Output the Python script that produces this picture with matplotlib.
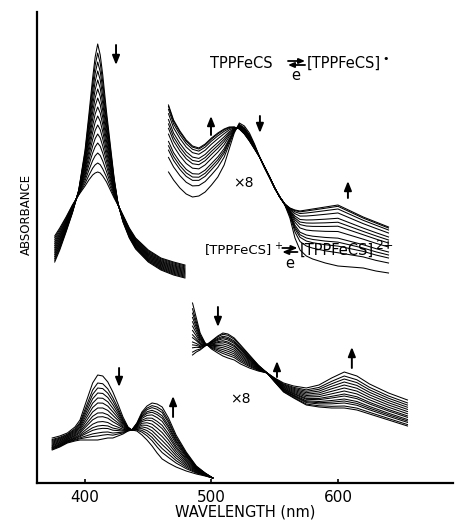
import numpy as np
import matplotlib.pyplot as plt

# Absorbance is arbitrary (no y scale in the original), heights read off the picture.

# Soret band, TPPFeCS -> [TPPFeCS]+ (upper left)
soret1_wl = [376, 380, 385, 390, 395, 400, 403, 406, 408, 410, 412, 414, 417, 420,
             423, 426, 430, 435, 440, 450, 460, 470, 479]
soret1_first = [221, 233, 251, 270, 293, 333, 368, 405, 426, 439, 428, 408, 371, 338,
                305, 280, 261, 245, 234, 221, 213, 208, 205]
soret1_last = [247, 255, 266, 278, 288, 297, 303, 308, 310, 311, 310, 307, 301, 293,
               285, 278, 268, 255, 245, 233, 225, 221, 218]
# height at 410 nm of each scan
soret1_scans = [439, 430, 421, 412, 403, 394, 385, 376, 367, 358, 349, 340, 330, 320, 311]

# visible bands x8, TPPFeCS -> [TPPFeCS]+ (upper right)
vis1_wl = [466, 470, 475, 480, 485, 490, 495, 500, 505, 510, 514, 518, 522, 526, 530,
           534, 538, 542, 546, 550, 554, 558, 562, 566, 570, 575, 580, 590, 600, 610,
           620, 630, 640]
vis1_first = [311, 303, 295, 289, 286, 287, 291, 298, 306, 318, 334, 350, 360, 357, 350,
              339, 326, 315, 305, 295, 286, 278, 265, 245, 233, 227, 224, 220, 217, 216,
              215, 212, 210]
vis1_last = [378, 363, 352, 343, 337, 335, 339, 345, 350, 354, 356, 356, 354, 349, 342,
             334, 326, 316, 306, 295, 286, 279, 275, 273, 272, 273, 274, 276, 278, 272,
             266, 261, 256]
# height at 640 nm of each scan
vis1_scans = [210, 220, 225, 228, 231, 236, 240, 243, 246, 250, 253, 255, 256]

# visible bands x8, [TPPFeCS]+ -> [TPPFeCS]2+ (lower right)
vis2_wl = [485, 488, 491, 495, 500, 505, 509, 513, 518, 523, 530, 537, 544, 550, 557,
           565, 575, 585, 595, 605, 615, 625, 640, 655]
vis2_first = [128, 131, 133, 137, 142, 147, 150, 149, 145, 138, 128, 118, 110, 101, 91,
              85, 78, 76, 75, 75, 73, 69, 63, 57]
vis2_last = [180, 165, 150, 140, 134, 130, 127, 125, 123, 119, 115, 112, 110, 105, 100,
             97, 95, 98, 105, 111, 107, 99, 90, 83]
# height at 605 nm of each scan
vis2_scans = [75, 77, 80, 82, 84, 87, 89, 92, 95, 98, 101, 104, 107, 111]

# Soret band, [TPPFeCS]+ -> [TPPFeCS]2+ (lower left)
soret2_wl = [374, 380, 386, 392, 396, 400, 403, 406, 410, 414, 418, 422, 426, 430,
             434, 437, 441, 445, 449, 453, 457, 461, 466, 472, 480, 488, 495, 501]
soret2_first = [45, 47, 50, 56, 63, 78, 89, 100, 108, 107, 101, 91, 79, 66,
                56, 53, 52, 48, 43, 37, 30, 24, 20, 16, 12, 9, 7, 5]
soret2_last = [33, 36, 40, 42, 43, 43, 43, 43, 43, 44, 45, 45, 47, 49,
               52, 53, 60, 71, 77, 80, 79, 76, 65, 48, 31, 17, 10, 5]
# height at 410 nm of each scan
soret2_scans = [108, 100, 95, 90, 85, 80, 75, 70, 66, 61, 57, 54, 50, 47, 43]


fig = plt.figure(figsize=(4.55, 5.21), dpi=100)
ax = fig.add_axes([37 / 455, 1 - 483 / 521, 416 / 455, 471 / 521])


def draw_family(wl, first, last, ref, scans):
    # every scan is a mix of the first and the last spectrum (isosbestic set)
    first = np.array(first, dtype=float)
    last = np.array(last, dtype=float)
    for v in scans:
        f = (v - first[ref]) / (last[ref] - first[ref])
        ax.plot(wl, first + f * (last - first), color='black', lw=0.75)


draw_family(soret1_wl, soret1_first, soret1_last, 9, soret1_scans)
draw_family(vis1_wl, vis1_first, vis1_last, 32, vis1_scans)
draw_family(vis2_wl, vis2_first, vis2_last, 19, vis2_scans)
draw_family(soret2_wl, soret2_first, soret2_last, 8, soret2_scans)

# arrows: (x, y start, y end)
arrows = [(424.5, 438, 418), (499.6, 348, 367), (538.3, 367, 350), (607.9, 285, 302),
          (505.1, 176, 156), (551.8, 106, 122), (611.0, 115, 136), (426.9, 115, 96),
          (469.6, 66, 87)]
for x, y0, y1 in arrows:
    ax.annotate('', xy=(x, y1), xytext=(x, y0),
                arrowprops=dict(arrowstyle='-|>,head_length=0.55,head_width=0.22',
                                color='black', lw=1.4, shrinkA=0, shrinkB=0))

ax.text(524.9, 300, '×8', fontsize=10, ha='center', va='center')
ax.text(522.5, 84, '×8', fontsize=10, ha='center', va='center')


def sup(prev, s, size):
    # small superscript glued to the right edge of the previous text
    return ax.annotate(s, xy=(1, 0.8), xycoords=prev, xytext=(1, 0),
                       textcoords='offset points', fontsize=size,
                       ha='left', va='center')


def equilibrium(x0, x1, y):
    # forward arrow on top, backward arrow below
    hs = '-|>,head_length=0.35,head_width=0.15'
    ax.annotate('', xy=(x1, y + 2), xytext=(x0, y + 2),
                arrowprops=dict(arrowstyle=hs, color='black', lw=1.3,
                                shrinkA=0, shrinkB=0))
    ax.annotate('', xy=(x0, y - 2), xytext=(x1, y - 2),
                arrowprops=dict(arrowstyle=hs, color='black', lw=1.3,
                                shrinkA=0, shrinkB=0))


# reaction schemes
ax.text(498.8, 420, 'TPPFeCS', fontsize=10.5, ha='left', va='center')
equilibrium(560.5, 574.0, 420)
ax.text(567.0, 407, 'e', fontsize=10.5, ha='center', va='center')
t = ax.text(575.5, 420, '[TPPFeCS]', fontsize=10.5, ha='left', va='center')
sup(t, '•', 8)

t = ax.text(494.9, 233, '[TPPFeCS]', fontsize=9.5, ha='left', va='center')
sup(t, '+', 7)
equilibrium(556.0, 568.0, 233)
ax.text(561.5, 220, 'e', fontsize=10.5, ha='center', va='center')
t = ax.text(569.5, 233, '[TPPFeCS]', fontsize=10.5, ha='left', va='center')
sup(t, '2+', 9)

ax.set_xlim(362, 691)
ax.set_ylim(0, 471)
ax.set_xticks([400, 500, 600])
ax.set_yticks([])
ax.tick_params(axis='x', direction='in', length=3, width=1.2, labelsize=11, pad=5)
for s in ['top', 'right']:
    ax.spines[s].set_visible(False)
for s in ['left', 'bottom']:
    ax.spines[s].set_linewidth(1.6)

ax.set_xlabel('WAVELENGTH (nm)', fontsize=10.5, labelpad=0)
ax.text(-0.026, 0.57, 'ABSORBANCE', transform=ax.transAxes, rotation=90,
        ha='center', va='center', fontsize=8.5,
        family=['Liberation Sans Narrow', 'DejaVu Sans'])

fig.savefig('out.png', dpi=100)
